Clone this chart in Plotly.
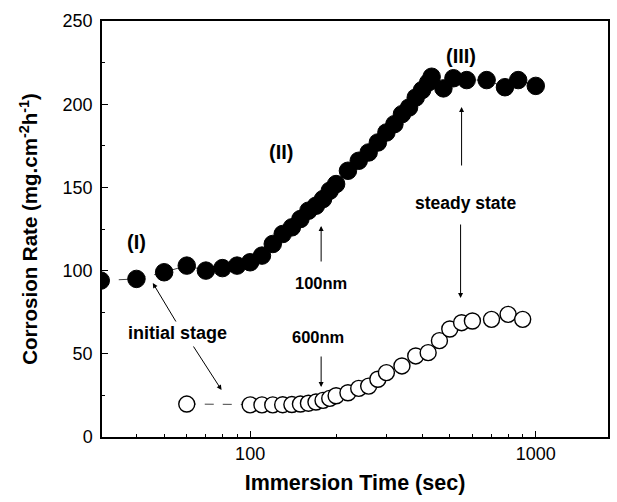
import plotly.graph_objects as go

# ---- data ----
filled_x = [30, 40, 50, 60, 70, 80, 90, 100, 110, 120, 130, 140, 150, 160, 170, 180, 190, 200,
            220, 240, 260, 280, 300, 320, 340, 360, 380, 400, 420,
            432, 475, 515, 573, 673, 780, 868, 1000]
filled_y = [94, 95, 99, 103, 100, 101.5, 103, 105, 109, 116, 122, 126, 131, 136, 139, 143, 148, 152,
            160, 166, 171, 177, 183, 188, 194, 198, 204, 208.5, 213,
            216.5, 209.5, 215.6, 214.5, 214.5, 210.2, 214.5, 211]

open_x = [60, 100, 110, 120, 130, 140, 150, 160, 170, 180, 190, 200, 220, 240, 260, 280, 300,
          340, 380, 420, 460, 500, 550, 600, 700, 800, 900]
open_y = [19.8, 19.3, 19.3, 19.3, 19.4, 19.5, 19.8, 20.3, 21, 22, 23.2, 24.8, 26.6, 29.2, 30.6, 34.7, 38.7,
          42.7, 48.7, 50.7, 57.9, 64.9, 68.7, 69.7, 70.7, 73.7, 70.7]

x_major = [100, 1000]
x_minor = [40, 50, 60, 70, 80, 90, 200, 300, 400, 500, 600, 700, 800, 900]
y_major = [0, 50, 100, 150, 200, 250]
y_minor = [25, 75, 125, 175, 225]

FONT = "Liberation Sans, Arial, Helvetica, sans-serif"

W, H = 617, 502
L, R, T, B = 102, 7, 21, 65
PW, PH = W - L - R, H - T - B


def px(xp):
    return (xp - L) / PW


def py(yp):
    return (H - B - yp) / PH


fig = go.Figure()

fig.add_trace(go.Scatter(
    x=open_x, y=open_y, mode="lines+markers", cliponaxis=True,
    line=dict(color="#444", width=1, dash="dash"),
    marker=dict(symbol="circle", size=16, color="white", line=dict(color="black", width=1.4)),
    showlegend=False))

fig.add_trace(go.Scatter(
    x=filled_x, y=filled_y, mode="lines+markers", cliponaxis=True,
    line=dict(color="#444", width=1, dash="dash"),
    marker=dict(symbol="circle", size=17.5, color="black", line=dict(color="black", width=1)),
    showlegend=False))

texts = [
    ("(I)", 137, 242, 20),
    ("(II)", 282, 152, 20),
    ("(III)", 462, 56, 20),
    ("steady state", 467, 203, 17.5),
    ("100nm", 322, 283, 16.5),
    ("600nm", 319, 337, 16.5),
    ("initial stage", 178, 333, 18),
]
annotations = []
for t, xx, yy, fs in texts:
    annotations.append(dict(text="<b>%s</b>" % t, x=px(xx), y=py(yy), xref="paper", yref="paper",
                            showarrow=False, xanchor="center", yanchor="middle",
                            font=dict(family=FONT, size=fs, color="black")))

# arrows: (head_x, head_y, tail_x, tail_y) in pixels
arrows = [
    (463, 107, 463, 167),
    (462, 298, 462, 223),
    (322, 226, 322, 263),
    (322, 387, 322, 355),
    (153, 283, 177, 323),
    (222, 390, 193, 345),
]
for hx, hy, tx, ty in arrows:
    annotations.append(dict(text="", x=px(hx), y=py(hy), xref="paper", yref="paper",
                            ax=tx - hx, ay=ty - hy, showarrow=True,
                            arrowhead=2, arrowsize=1, arrowwidth=1, arrowcolor="black"))

fig.update_layout(
    width=W, height=H,
    margin=dict(l=L, r=R, t=T, b=B),
    paper_bgcolor="white", plot_bgcolor="white",
    font=dict(family=FONT, color="black"),
    annotations=annotations,
    showlegend=False,
)

fig.update_xaxes(
    type="log", range=[1.4814, 3.2529],
    tickmode="array", tickvals=x_major, ticktext=[str(v) for v in x_major],
    ticks="inside", ticklen=6, tickwidth=1.2, tickcolor="black",
    minor=dict(tickmode="array", tickvals=x_minor, ticks="inside", ticklen=3, tickwidth=1.2, tickcolor="black"),
    showline=True, linecolor="black", linewidth=1.5, mirror=True,
    showgrid=False, zeroline=False,
    tickfont=dict(family=FONT, size=18, color="black"),
    title=dict(text="<b>Immersion Time (sec)</b>", font=dict(family=FONT, size=21.5, color="black"), standoff=12),
)

fig.update_yaxes(
    range=[0, 250],
    tickmode="array", tickvals=y_major, ticktext=[str(v) for v in y_major],
    ticks="inside", ticklen=6, tickwidth=1.2, tickcolor="black",
    minor=dict(tickmode="array", tickvals=y_minor, ticks="inside", ticklen=3, tickwidth=1.2, tickcolor="black"),
    showline=True, linecolor="black", linewidth=1.5, mirror=True,
    showgrid=False, zeroline=False,
    tickfont=dict(family=FONT, size=18, color="black"),
    ticklabelstandoff=4,
    title=dict(text="<b>Corrosion Rate (mg.cm<sup>-2</sup>h<sup>-1</sup>)</b>",
               font=dict(family=FONT, size=20.5, color="black"), standoff=19),
)

fig.write_html("out.html")
